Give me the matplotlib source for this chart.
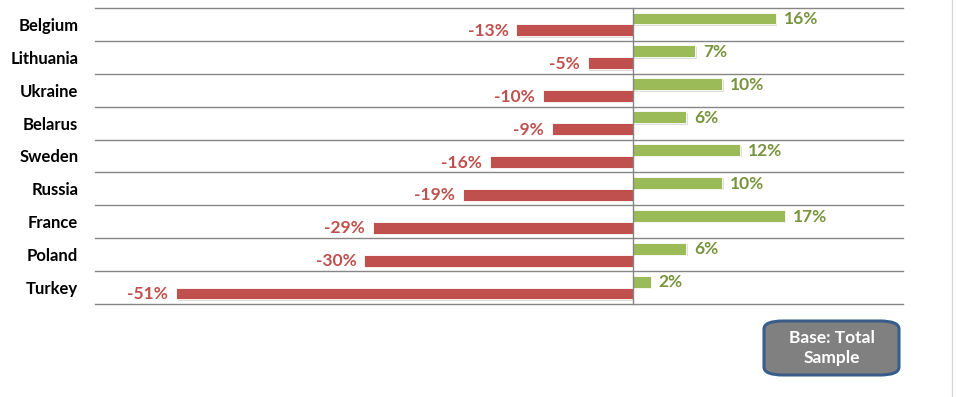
import matplotlib.pyplot as plt
import matplotlib.patheffects as pe
from matplotlib.patches import FancyBboxPatch
from matplotlib.lines import Line2D
import numpy as np

plt.rcParams['font.family'] = ['Lato', 'DejaVu Sans']

# Datos
paises = ["Belgium", "Lithuania", "Ukraine", "Belarus", "Sweden",
          "Russia", "France", "Poland", "Turkey"]
positivos = [16, 7, 10, 6, 12, 10, 17, 6, 2]
negativos = [-13, -5, -10, -9, -16, -19, -29, -30, -51]

verde = "#9BBB59"
verde_txt = "#77933C"
rojo = "#C0504D"

fig = plt.figure(figsize=(9.57, 3.97), dpi=100)
ax = fig.add_axes([95 / 957, 1 - 304 / 397, 808 / 957, 296 / 397])

y = np.arange(len(paises))
alto = 0.36
sombra = [pe.SimplePatchShadow(offset=(1, -1), shadow_rgbFace="#BFBFBF", alpha=0.5), pe.Normal()]

b1 = ax.barh(y - 0.18, positivos, height=alto, color=verde, edgecolor="white", linewidth=0.6)
b2 = ax.barh(y + 0.18, negativos, height=alto, color=rojo, edgecolor="white", linewidth=0.6)
for b in list(b1) + list(b2):
    b.set_path_effects(sombra)

for yi, v in zip(y, positivos):
    ax.text(v + 0.9, yi - 0.16, f"{v}%", va="center", ha="left",
            color=verde_txt, fontsize=12.5, fontweight="bold")
for yi, v in zip(y, negativos):
    ax.text(v - 0.9, yi + 0.2, f"{v}%", va="center", ha="right",
            color=rojo, fontsize=12.5, fontweight="bold")

ax.set_xlim(-60.1, 30.2)
ax.set_ylim(len(paises) - 0.5, -0.5)
ax.set_yticks(y)
ax.set_yticklabels(paises, fontsize=12, fontweight="bold")
ax.tick_params(axis="y", length=0, pad=12)
ax.set_xticks([])
for lim in np.arange(-0.5, len(paises), 1.0):
    ax.axhline(lim, color="#868686", linewidth=1, zorder=0, clip_on=False)
ax.axvline(0, color="#868686", linewidth=1, zorder=3, clip_on=False)
for s in ax.spines.values():
    s.set_visible(False)

# Caja "Base"
caja = FancyBboxPatch((764 / 957, 1 - 375 / 397), 135 / 957, 54 / 397,
                      boxstyle="round,pad=0,rounding_size=0.02",
                      transform=fig.transFigure, facecolor="#808080",
                      edgecolor="#385D8A", linewidth=2.2)
fig.patches.append(caja)
fig.text(831.5 / 957, 1 - 348 / 397, "Base: Total\nSample", ha="center", va="center",
         color="white", fontsize=12.5, fontweight="bold", linespacing=1.3)

fig.add_artist(Line2D([952 / 957, 952 / 957], [0, 1], color="#D9D9D9", linewidth=1))

fig.savefig("out.png", dpi=100)
